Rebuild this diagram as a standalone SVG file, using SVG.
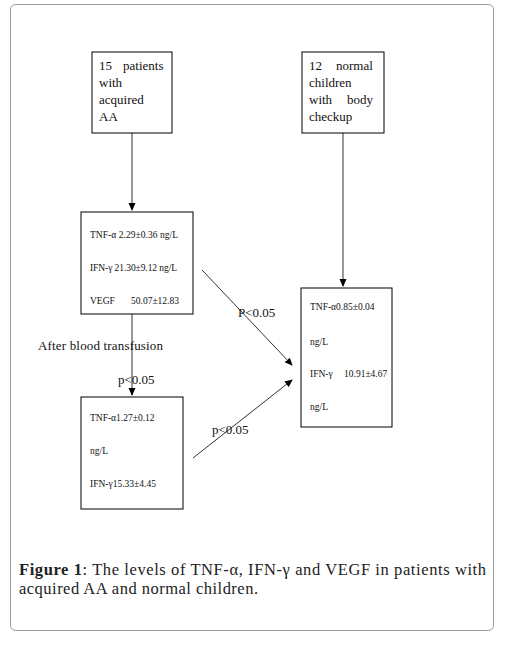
<svg xmlns="http://www.w3.org/2000/svg" width="516" height="645" viewBox="0 0 516 645">
<style>
.box{fill:#fff;stroke:#000;stroke-width:1}
.t{font-family:"Liberation Serif","Times New Roman",serif;fill:#111}
.big{font-size:13px}
.sm{font-size:9.5px}
.lbl{font-size:13px}
.cap{font-family:"Liberation Serif","Times New Roman",serif;font-size:16.5px;fill:#222}
.con{stroke:#333;stroke-width:1;fill:none;marker-end:url(#ah)}
</style>
<defs>
<marker id="ah" markerWidth="8" markerHeight="8" refX="7" refY="4" orient="auto" markerUnits="userSpaceOnUse">
<path d="M0,0.5 L8,4 L0,7.5 Z" fill="#000"/>
</marker>
</defs>
<rect x="0" y="0" width="516" height="645" fill="#fff"/>
<rect x="10.5" y="4.5" width="483" height="626" rx="5" fill="#fff" stroke="#999" stroke-width="1"/>
<g id="connectors">
<line class="con" x1="132" y1="133" x2="132" y2="210"/>
<line class="con" x1="343" y1="133" x2="343" y2="286"/>
<line class="con" x1="132" y1="314" x2="132" y2="395"/>
<line class="con" x1="202" y1="270" x2="292" y2="365"/>
<line class="con" x1="193" y1="458" x2="292" y2="380"/>
</g>
<g id="patients">
<rect class="box" x="92" y="52" width="80" height="81"/>
<text class="t big" x="99" y="70">15<tspan x="123">patients</tspan></text>
<text class="t big" x="99" y="87">with</text>
<text class="t big" x="99" y="104">acquired</text>
<text class="t big" x="99" y="121">AA</text>
</g>
<g id="normal">
<rect class="box" x="302" y="52" width="82" height="81"/>
<text class="t big" x="309" y="70">12<tspan x="336">normal</tspan></text>
<text class="t big" x="309" y="87">children</text>
<text class="t big" x="309" y="104">with<tspan x="347">body</tspan></text>
<text class="t big" x="309" y="121">checkup</text>
</g>
<g id="before">
<rect class="box" x="81" y="212" width="112" height="102"/>
<text class="t sm" x="90" y="238" textLength="88">TNF-α 2.29±0.36 ng/L</text>
<text class="t sm" x="90" y="271" textLength="87">IFN-γ 21.30±9.12 ng/L</text>
<text class="t sm" x="90" y="304">VEGF<tspan x="131">50.07±12.83</tspan></text>
</g>
<g id="normalvals">
<rect class="box" x="301" y="288" width="91" height="139"/>
<text class="t sm" x="310" y="310">TNF-α0.85±0.04</text>
<text class="t sm" x="310" y="345">ng/L</text>
<text class="t sm" x="310" y="377">IFN-γ<tspan x="344">10.91±4.67</tspan></text>
<text class="t sm" x="310" y="410">ng/L</text>
</g>
<g id="after">
<rect class="box" x="81" y="397" width="102" height="112"/>
<text class="t sm" x="90" y="421">TNF-α1.27±0.12</text>
<text class="t sm" x="90" y="454">ng/L</text>
<text class="t sm" x="90" y="487">IFN-γ15.33±4.45</text>
</g>
<g id="labels">
<text class="t big" x="38" y="350" textLength="125">After blood transfusion</text>
<text class="t lbl" x="118" y="384">p&lt;0.05</text>
<text class="t lbl" x="238" y="317">P&lt;0.05</text>
<text class="t lbl" x="212" y="434">p&lt;0.05</text>
</g>
<g id="caption">
<text class="cap" x="19" y="575" textLength="467" lengthAdjust="spacing"><tspan font-weight="bold">Figure 1</tspan>: The levels of TNF-α, IFN-γ and VEGF in patients with</text>
<text class="cap" x="19" y="594" textLength="239" lengthAdjust="spacing">acquired AA and normal children.</text>
</g>
</svg>
